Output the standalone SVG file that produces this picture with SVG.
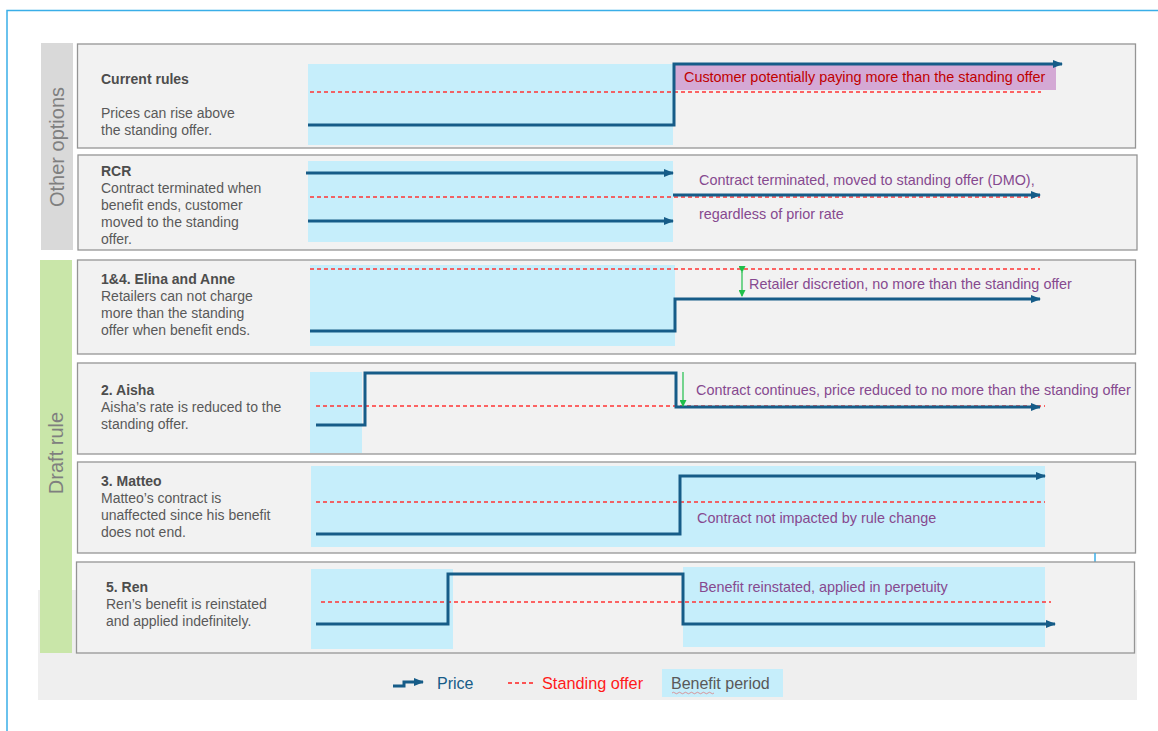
<svg xmlns="http://www.w3.org/2000/svg" width="1158" height="731" viewBox="0 0 1158 731">
<defs>
<style>
.panel{fill:#f2f2f2;stroke:#959595;stroke-width:1.3}
.ben{fill:#c6eefb}
.price{fill:none;stroke:#165c88;stroke-width:3;stroke-linejoin:miter}
.so{fill:none;stroke:#ff3535;stroke-width:1.3;stroke-dasharray:4 3}
.t{font-family:"Liberation Sans",Arial,sans-serif;font-size:14px;fill:#595959}
.tb{font-family:"Liberation Sans",Arial,sans-serif;font-size:14px;font-weight:bold;fill:#4d4d4d}
.note{font-family:"Liberation Sans",Arial,sans-serif;font-size:14.4px;fill:#86498f}
.side{font-family:"Liberation Sans",Arial,sans-serif;font-size:20px;fill:#7f7f7f}
.green{stroke:#1fbf4a;stroke-width:1.2;fill:none}
</style>
<marker id="arr" markerUnits="userSpaceOnUse" markerWidth="10" markerHeight="8" refX="9" refY="4" orient="auto">
<path d="M0,0 L10,4 L0,8 z" fill="#165c88"/>
</marker>
<marker id="garr" markerUnits="userSpaceOnUse" markerWidth="7" markerHeight="7" refX="6" refY="3.5" orient="auto">
<path d="M0,0 L7,3.5 L0,7 z" fill="#1fbf4a"/>
</marker>
</defs>
<rect x="0" y="0" width="1158" height="731" fill="#ffffff"/>
<path d="M7,731 L7,10.5 L1158,10.5" fill="none" stroke="#3aaee8" stroke-width="1.5"/>
<rect x="38" y="590" width="1099" height="110" fill="#efefef"/>
<g id="side-other">
<rect x="41" y="43" width="32" height="207" fill="#d9d9d9"/>
<text class="side" transform="translate(64,147) rotate(-90)" text-anchor="middle">Other options</text>
</g>
<g id="side-draft">
<rect x="40" y="260" width="32" height="393" fill="#c9e6a9"/>
<text class="side" transform="translate(63,453) rotate(-90)" text-anchor="middle">Draft rule</text>
</g>
<g id="current-rules">
<rect class="panel" x="77.5" y="44" width="1058" height="104"/>
<rect class="ben" x="308" y="64" width="365" height="81"/>
<rect x="673" y="64" width="383" height="26" fill="#d4a9d5"/>
<text class="tb" x="101" y="84">Current rules</text>
<text class="t" x="101" y="118">Prices can rise above</text>
<text class="t" x="101" y="135">the standing offer.</text>
<line class="so" x1="310" y1="92" x2="1041" y2="92"/>
<text x="684" y="82" font-family="Liberation Sans,Arial,sans-serif" font-size="14.4" fill="#c00000">Customer potentially paying more than the standing offer</text>
</g>
<g id="rcr">
<rect class="panel" x="78" y="155" width="1059" height="95"/>
<rect class="ben" x="308" y="161" width="365" height="81"/>
<text class="tb" x="101" y="176">RCR</text>
<text class="t" x="101" y="193">Contract terminated when</text>
<text class="t" x="101" y="210">benefit ends, customer</text>
<text class="t" x="101" y="227">moved to the standing</text>
<text class="t" x="101" y="244">offer.</text>
<line class="so" x1="310" y1="197" x2="1040" y2="197"/>
<text class="note" x="699" y="185">Contract terminated, moved to standing offer (DMO),</text>
<text class="note" x="699" y="219">regardless of prior rate</text>
</g>
<g id="elina-anne">
<rect class="panel" x="77.5" y="260" width="1058" height="94"/>
<rect class="ben" x="310" y="265" width="365" height="81"/>
<text class="tb" x="101" y="284">1&amp;4. Elina and Anne</text>
<text class="t" x="101" y="301">Retailers can not charge</text>
<text class="t" x="101" y="318">more than the standing</text>
<text class="t" x="101" y="335">offer when benefit ends.</text>
<line class="so" x1="310" y1="269" x2="1040" y2="269"/>
<text class="note" x="749" y="289">Retailer discretion, no more than the standing offer</text>
</g>
<g id="aisha">
<rect class="panel" x="77.5" y="363" width="1058" height="91"/>
<rect class="ben" x="310" y="372" width="52" height="81"/>
<text class="tb" x="101" y="395">2. Aisha</text>
<text class="t" x="101" y="412">Aisha’s rate is reduced to the</text>
<text class="t" x="101" y="429">standing offer.</text>
<line class="so" x1="316" y1="406" x2="1045" y2="406"/>
<text class="note" x="696" y="395">Contract continues, price reduced to no more than the standing offer</text>
</g>
<g id="matteo">
<rect class="panel" x="77.5" y="462" width="1058" height="91"/>
<rect class="ben" x="311" y="466" width="734" height="81"/>
<text class="tb" x="101" y="486">3. Matteo</text>
<text class="t" x="101" y="503">Matteo’s contract is</text>
<text class="t" x="101" y="520">unaffected since his benefit</text>
<text class="t" x="101" y="537">does not end.</text>
<line class="so" x1="316" y1="502" x2="1045" y2="502"/>
<text class="note" x="697" y="523">Contract not impacted by rule change</text>
</g>
<line x1="1095" y1="553" x2="1095" y2="562" stroke="#3aaee8" stroke-width="1.5"/>
<g id="ren">
<rect class="panel" x="76.5" y="562" width="1058" height="91"/>
<rect class="ben" x="311" y="569" width="142" height="80"/>
<rect class="ben" x="683" y="567" width="362" height="80"/>
<text class="tb" x="106" y="592">5. Ren</text>
<text class="t" x="106" y="609">Ren’s benefit is reinstated</text>
<text class="t" x="106" y="626">and applied indefinitely.</text>
<line class="so" x1="321" y1="602" x2="1051" y2="602"/>
<text class="note" x="699" y="592">Benefit reinstated, applied in perpetuity</text>
</g>
<g id="connectors">
<polyline class="price" points="308,125 674,125 674,64 1062,64" marker-end="url(#arr)"/>
<line class="price" x1="306" y1="173" x2="673" y2="173" marker-end="url(#arr)"/>
<line class="price" x1="308" y1="221" x2="673" y2="221" marker-end="url(#arr)"/>
<line class="price" x1="673" y1="195" x2="1040" y2="195" marker-end="url(#arr)"/>
<polyline class="price" points="310,331 675,331 675,299 1040,299" marker-end="url(#arr)"/>
<line class="green" x1="742" y1="272" x2="742" y2="296" marker-start="url(#garr)" marker-end="url(#garr)"/>
<polyline class="price" points="316,425 365,425 365,373 676,373 676,407 1040,407" marker-end="url(#arr)"/>
<line class="green" x1="683" y1="372" x2="683" y2="406" marker-end="url(#garr)"/>
<polyline class="price" points="316,534 680,534 680,476 1045,476" marker-end="url(#arr)"/>
<polyline class="price" points="316,624 448,624 448,574 683,574 683,624 1055,624" marker-end="url(#arr)"/>
</g>
<g id="legend">
<rect class="ben" x="662" y="669" width="121" height="28"/>
<polyline class="price" points="393,686 404,686 404,682 423,682" stroke-width="2.5" marker-end="url(#arr)"/>
<text x="437" y="689" font-family="Liberation Sans,Arial,sans-serif" font-size="16" fill="#165c88">Price</text>
<line x1="508" y1="683" x2="533" y2="683" stroke="#ff2020" stroke-width="1.3" stroke-dasharray="4 3"/>
<text x="542" y="689" font-family="Liberation Sans,Arial,sans-serif" font-size="16.3" fill="#ff1a1a">Standing offer</text>
<text x="671" y="689" font-family="Liberation Sans,Arial,sans-serif" font-size="16" fill="#595959">Benefit period</text>
<path d="M672,693 q1.5,-1.5 3,0 t3,0 t3,0 t3,0 t3,0 t3,0 t3,0 t3,0 t3,0 t3,0 t3,0 t3,0 t3,0 t3,0" fill="none" stroke="#e05a5a" stroke-width="0.6"/>
</g>
</svg>
